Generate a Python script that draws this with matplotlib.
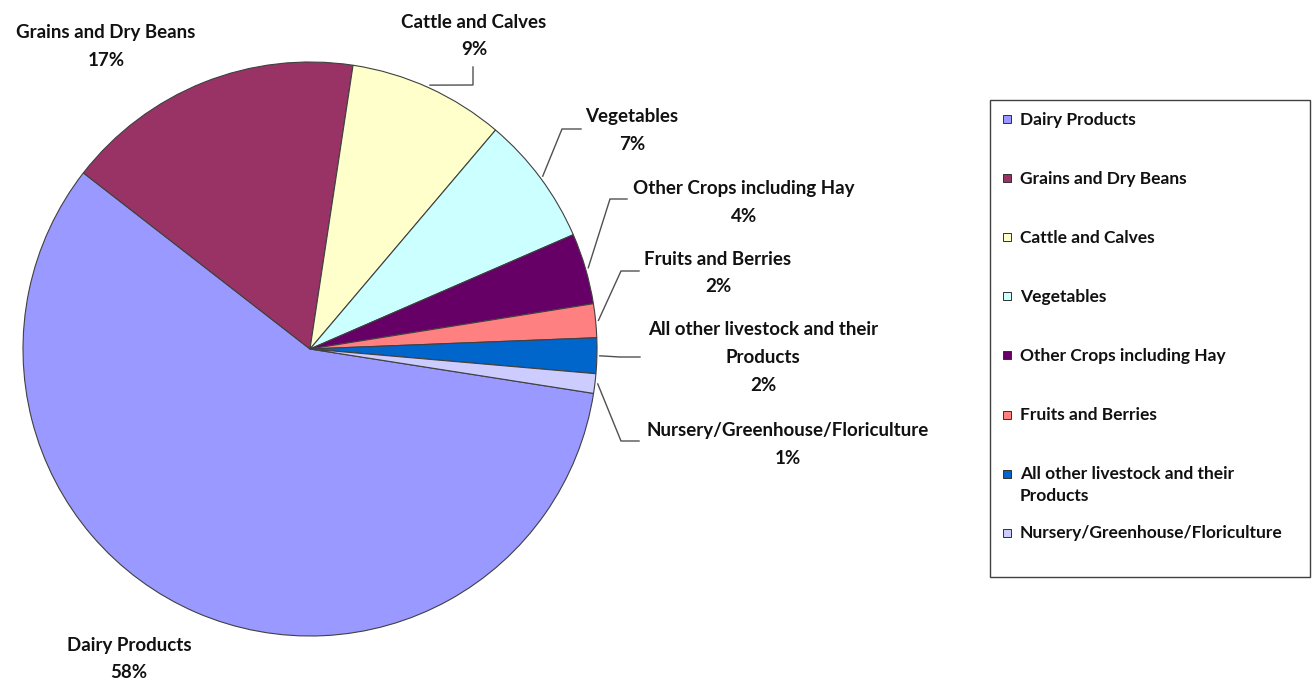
import textwrap
import matplotlib
matplotlib.use("Agg")
import matplotlib.pyplot as plt
from matplotlib.patches import Rectangle
import numpy as np

# ---- data ----
categories = ["Dairy Products", "Grains and Dry Beans", "Cattle and Calves", "Vegetables",
              "Other Crops including Hay", "Fruits and Berries",
              "All other livestock and their Products", "Nursery/Greenhouse/Floriculture"]
shares = [58.1, 16.9, 8.8, 7.3, 4.0, 1.9, 2.0, 1.1]
colors = ["#9999FF", "#993366", "#FFFFCC", "#CCFFFF", "#660066", "#FF8080", "#0066CC", "#CCCCFF"]

# ---- layout (pixel coords, y measured from top) ----
W, H = 1312, 681
CX, CY, R = 310, 349, 287
label_pos = [(129, 659), (106, 46.5), (474, 36), (632, 130.5), (744, 202.5),
             (718, 273), (763, 357.5), (788, 444.5)]
# leader lines: (elbow, end) or None
leaders = [None, None, ((473, 85), (473, 67)), ((562, 129), (581, 129)),
           ((610, 199), (627, 199)), ((621, 271), (639, 271)),
           ((620, 357), (640, 357)), ((621, 441), (639, 441))]
legend_box = (990, 100, 1310, 577)
legend_row0, legend_step = 119, 59.1

FONT = ["Lato", "DejaVu Sans"]
plt.rcParams['font.family'] = FONT


def Y(y):
    return H - y


fig = plt.figure(figsize=(W / 100, H / 100), dpi=100)
ax = fig.add_axes([0, 0, 1, 1])
wedges, _ = ax.pie(shares, colors=colors, startangle=-8.9, counterclock=False,
                   center=(CX, Y(CY)), radius=R,
                   wedgeprops=dict(edgecolor="#404040", linewidth=0.8))
ax.set_xlim(0, W)
ax.set_ylim(0, H)
ax.set_aspect('equal')
ax.axis('off')

total = sum(shares)
for i, (w, cat) in enumerate(zip(wedges, categories)):
    pct = round(shares[i] / total * 100)
    name = textwrap.fill(cat, 30, break_long_words=False)
    lx, ly = label_pos[i]
    ax.text(lx, Y(ly), f"{name}\n{pct}%", ha='center', va='center',
            multialignment='center', fontsize=13.5, fontweight='bold',
            linespacing=1.78, color='#111111')
    if leaders[i] is not None:
        mid = np.deg2rad((w.theta1 + w.theta2) / 2)
        sx = CX + R * 1.01 * np.cos(mid)
        sy = Y(CY) + R * 1.01 * np.sin(mid)
        (ex, ey), (fx, fy) = leaders[i]
        ax.plot([sx, ex, fx], [sy, Y(ey), Y(fy)], color="#505050", lw=1.0,
                solid_joinstyle='miter')

# ---- manual legend ----
x0, y0, x1, y1 = legend_box
ax.add_patch(Rectangle((x0, Y(y1)), x1 - x0, y1 - y0, facecolor='white',
                       edgecolor='#404040', lw=1.0))
for i, cat in enumerate(categories):
    ry = legend_row0 + i * legend_step
    ax.add_patch(Rectangle((1003, Y(ry) - 4), 8, 8, facecolor=colors[i],
                           edgecolor='#303030', lw=0.7))
    name = textwrap.fill(cat, 30, break_long_words=False)
    ax.text(1020, Y(ry) + 7.5, name, ha='left', va='top', fontsize=12.5,
            fontweight='bold', linespacing=1.45, color='#111111')

fig.savefig("out.png", dpi=100, facecolor='white')
